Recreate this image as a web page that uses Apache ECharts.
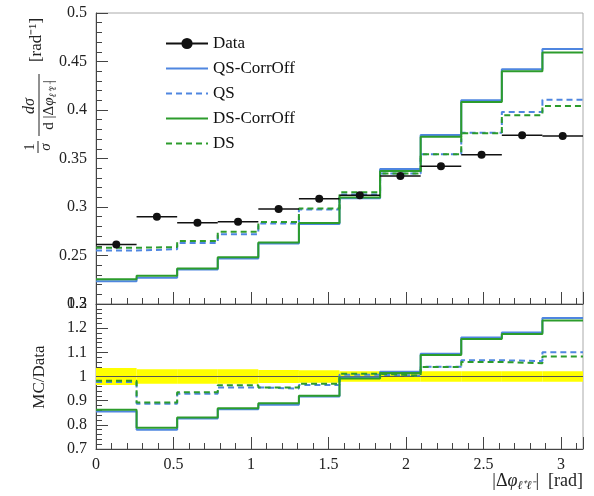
<!DOCTYPE html>
<html>
<head>
<meta charset="utf-8">
<script src="https://cdn.jsdelivr.net/npm/echarts@6/dist/echarts.min.js"></script>
<style>
html,body{margin:0;padding:0;background:#fff;}
#main{width:594px;height:496px;}
</style>
</head>
<body>
<div id="main"></div>
<script>
var edges = [0, 0.2618, 0.5236, 0.7854, 1.0472, 1.309, 1.5708, 1.8326, 2.0944, 2.3562, 2.618, 2.8798, 3.1416];

// normalised cross section per bin
var dataVals = [0.2613, 0.290, 0.2838, 0.2848, 0.2979, 0.3086, 0.312, 0.332, 0.342, 0.3538, 0.374, 0.3731];
var qsOff = [0.2234, 0.227, 0.2355, 0.247, 0.2625, 0.2825, 0.309, 0.3392, 0.3741, 0.410, 0.442, 0.463];
var dsOff = [0.2255, 0.229, 0.2365, 0.2482, 0.2634, 0.2834, 0.3097, 0.3372, 0.3724, 0.4083, 0.440, 0.4593];
var qs = [0.2551, 0.2565, 0.263, 0.272, 0.283, 0.2975, 0.313, 0.3345, 0.3545, 0.3765, 0.398, 0.4106];
var ds = [0.258, 0.2587, 0.265, 0.2745, 0.2845, 0.2985, 0.3151, 0.3345, 0.3545, 0.376, 0.3945, 0.4041];

// MC / Data
var rQsOff = [0.855, 0.780, 0.826, 0.865, 0.883, 0.917, 0.996, 1.0195, 1.0945, 1.161, 1.182, 1.242];
var rDsOff = [0.8625, 0.7875, 0.830, 0.869, 0.889, 0.920, 0.992, 1.014, 1.089, 1.155, 1.176, 1.232];
var rQs = [0.977, 0.8875, 0.929, 0.955, 0.950, 0.965, 1.007, 1.004, 1.040, 1.067, 1.064, 1.100];
var rDs = [0.982, 0.892, 0.935, 0.964, 0.955, 0.970, 1.011, 1.004, 1.039, 1.060, 1.055, 1.083];
var bandHalf = [0.035, 0.03, 0.03, 0.03, 0.027, 0.026, 0.022, 0.022, 0.022, 0.022, 0.022, 0.022];

var xTicks = [0, 0.5, 1, 1.5, 2, 2.5, 3];
var topTicks = [0.2, 0.5, 0.05];
var ratioTicks = [0.7, 1.3, 0.1];

var BLUE = '#4f86e0', GREEN = '#2c9c2c';
var FONT = 'Liberation Serif';

//直方图阶梯
function steps(vals){
	var out = [];
	for(var i=0; i<vals.length; i++){
		out.push([edges[i], vals[i]]);
	}
	out.push([edges[edges.length-1], vals[vals.length-1]]);
	return out;
}

function histLine(name, vals, color, dashed, gi){
	return {
		name: name,
		type: 'line',
		step: 'end',
		xAxisIndex: gi, yAxisIndex: gi,
		symbol: 'none',
		silent: true,
		z: 3,
		lineStyle: {color: color, width: 2, type: dashed ? [6, 4] : 'solid'},
		itemStyle: {color: color},
		data: steps(vals)
	};
}

var dataBins = [], bandBins = [];
for(var i=0; i<dataVals.length; i++){
	dataBins.push([edges[i], edges[i+1], dataVals[i]]);
	bandBins.push([edges[i], edges[i+1], 1 - bandHalf[i], 1 + bandHalf[i]]);
}

function xAxisCfg(gi, showLabel){
	return {
		type: 'value', gridIndex: gi,
		min: 0, max: edges[edges.length-1], interval: 0.5,
		axisLine: {show: true, lineStyle: {color: '#444', width: 1}},
		axisTick: {show: true, inside: true, length: 12, lineStyle: {color: '#444'}},
		minorTick: {show: true, splitNumber: 5, length: 6, lineStyle: {color: '#444'}},
		splitLine: {show: false},
		axisLabel: {
			show: showLabel, margin: 8, fontFamily: FONT, fontSize: 16, color: '#222',
			showMaxLabel: false,
			formatter: function(v){ return xTicks.indexOf(Math.round(v*10)/10) >= 0 && Math.abs(v*2 - Math.round(v*2)) < 1e-6 ? String(Math.round(v*10)/10) : ''; }
		}
	};
}

function yAxisCfg(gi, t){
	return {
		type: 'value', gridIndex: gi,
		min: t[0], max: t[1], interval: t[2],
		axisLine: {show: true, lineStyle: {color: '#444', width: 1}},
		axisTick: {show: true, inside: true, length: 12, lineStyle: {color: '#444'}},
		minorTick: {show: true, splitNumber: 5, length: 6, lineStyle: {color: '#444'}},
		splitLine: {show: false},
		axisLabel: {margin: 9, fontFamily: FONT, fontSize: 16, color: '#222'}
	};
}

var chart = echarts.init(document.getElementById('main'));
var option = {
	backgroundColor: '#fff',
	animation: false,
	grid: [
		{left: 96, right: 11, top: 13, height: 291, show: true, borderColor: '#aaa', borderWidth: 1},
		{left: 96, right: 11, top: 304, height: 145, show: true, borderColor: '#aaa', borderWidth: 1}
	],
	xAxis: [xAxisCfg(0, false), xAxisCfg(1, true)],
	yAxis: [yAxisCfg(0, topTicks), yAxisCfg(1, ratioTicks)],
	legend: {
		orient: 'vertical',
		left: 160, top: 30,
		itemWidth: 42, itemHeight: 14, itemGap: 8,
		selectedMode: false,
		itemStyle: {opacity: 0},
		textStyle: {fontFamily: FONT, fontSize: 17, color: '#111'},
		data: [{name: 'Data', itemStyle: {opacity: 1}}, 'QS-CorrOff', 'QS', 'DS-CorrOff', 'DS']
	},
	graphic: [
		//纵轴标题
		{
			type: 'group', x: 0, y: 190, rotation: Math.PI/2,
			children: [
				{type: 'text', x: 43, y: 30, style: {text: '1', font: '14px "Liberation Serif"', fill: '#222', align: 'center', verticalAlign: 'middle'}},
				{type: 'line', shape: {x1: 37, y1: 38, x2: 49, y2: 38}, style: {stroke: '#222', lineWidth: 1}},
				{type: 'text', x: 43, y: 46, style: {text: 'σ', font: 'italic 15px "Liberation Serif"', fill: '#222', align: 'center', verticalAlign: 'middle'}},
				{type: 'text', x: 84, y: 30, style: {text: 'dσ', font: 'italic 16px "Liberation Serif"', fill: '#222', align: 'center', verticalAlign: 'middle'}},
				{type: 'line', shape: {x1: 54, y1: 39, x2: 116, y2: 39}, style: {stroke: '#222', lineWidth: 1}},
				{type: 'text', x: 85, y: 49, style: {
					text: '{n|d |Δ}{i|φ}{s|ℓ⁺ℓ⁻}{n||}', align: 'center', verticalAlign: 'middle',
					rich: {
						n: {font: '15px "Liberation Serif"', fill: '#222'},
						i: {font: 'italic 15px "Liberation Serif"', fill: '#222'},
						s: {font: 'italic 10px "Liberation Serif"', fill: '#222', padding: [8, 0, 0, 0]}
					}
				}},
				{type: 'text', x: 150, y: 37, style: {text: '[rad⁻¹]', font: '17px "Liberation Serif"', fill: '#222', align: 'center', verticalAlign: 'middle'}}
			]
		},
		{
			type: 'text', x: 40, y: 377, rotation: Math.PI/2,
			style: {text: 'MC/Data', font: '17px "Liberation Serif"', fill: '#222', align: 'center', verticalAlign: 'middle'}
		},
		{
			type: 'text', x: 583, y: 481,
			style: {
				text: '{n||Δ}{i|φ}{s|ℓ⁺ℓ⁻}{n||  [rad]}', align: 'right', verticalAlign: 'middle',
				rich: {
					n: {font: '18px "Liberation Serif"', fill: '#222'},
					i: {font: 'italic 18px "Liberation Serif"', fill: '#222'},
					s: {font: 'italic 12px "Liberation Serif"', fill: '#222', padding: [10, 0, 0, 0]}
				}
			}
		}
	],
	series: [
		// 图例用的空系列
		{
			name: 'Data', type: 'line', xAxisIndex: 0, yAxisIndex: 0, data: [],
			symbol: 'circle', symbolSize: 8,
			lineStyle: {color: '#111', width: 1.5}, itemStyle: {color: '#111'}
		},
		histLine('QS-CorrOff', qsOff, BLUE, false, 0),
		histLine('QS', qs, BLUE, true, 0),
		histLine('DS-CorrOff', dsOff, GREEN, false, 0),
		histLine('DS', ds, GREEN, true, 0),
		{
			name: 'DataPoints', type: 'custom', xAxisIndex: 0, yAxisIndex: 0, z: 10,
			data: dataBins,
			encode: {x: [0, 1], y: 2},
			renderItem: function(params, api){
				var p0 = api.coord([api.value(0), api.value(2)]);
				var p1 = api.coord([api.value(1), api.value(2)]);
				return {
					type: 'group',
					children: [
						{type: 'line', shape: {x1: p0[0], y1: p0[1], x2: p1[0], y2: p1[1]}, style: {stroke: '#111', lineWidth: 1.5}},
						{type: 'circle', shape: {cx: (p0[0]+p1[0])/2, cy: p0[1], r: 4}, style: {fill: '#111'}}
					]
				};
			}
		},
		// 比值面板
		{
			name: 'band', type: 'custom', xAxisIndex: 1, yAxisIndex: 1, z: 1,
			data: bandBins,
			encode: {x: [0, 1], y: [2, 3]},
			renderItem: function(params, api){
				var a = api.coord([api.value(0), api.value(3)]);
				var b = api.coord([api.value(1), api.value(2)]);
				return {type: 'rect', shape: {x: a[0], y: a[1], width: b[0]-a[0], height: b[1]-a[1]}, style: {fill: '#ffff00'}};
			}
		},
		{
			name: 'unity', type: 'line', xAxisIndex: 1, yAxisIndex: 1, z: 2, symbol: 'none', silent: true,
			lineStyle: {color: '#555', width: 1.2},
			data: [[edges[0], 1], [edges[edges.length-1], 1]]
		},
		histLine('rQsOff', rQsOff, BLUE, false, 1),
		histLine('rQs', rQs, BLUE, true, 1),
		histLine('rDsOff', rDsOff, GREEN, false, 1),
		histLine('rDs', rDs, GREEN, true, 1)
	]
};
chart.setOption(option);
</script>
</body>
</html>
